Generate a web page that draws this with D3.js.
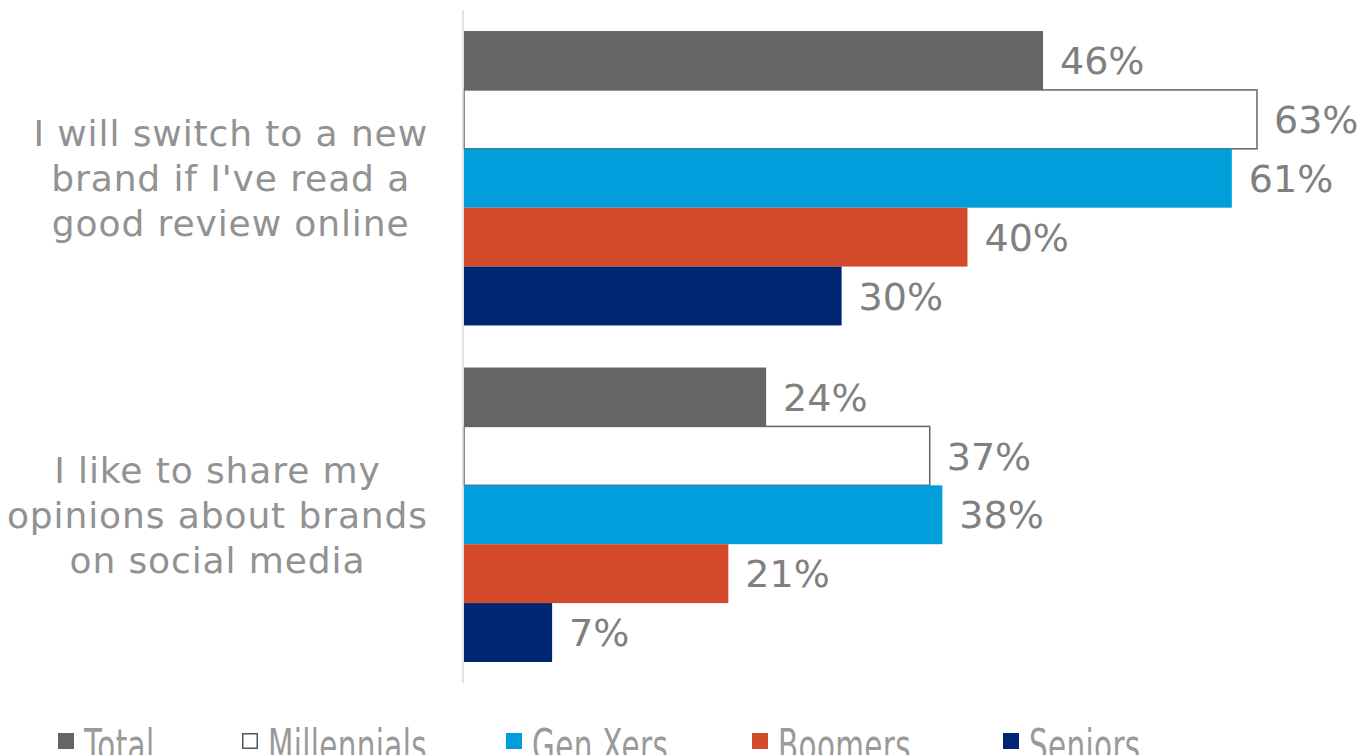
<!DOCTYPE html>
<html>
<head>
<meta charset="utf-8">
<script src="https://cdn.jsdelivr.net/npm/d3@7"></script>
<style>
  html, body { margin: 0; padding: 0; background: #fff; }
  svg { display: block; }
</style>
</head>
<body>
<svg id="chart" width="1363" height="755"></svg>
<script>
// Survey statements (each drawn on three lines)
const categories = [
  "I will switch to a new brand if I've read a good review online",
  "I like to share my opinions about brands on social media"
];
const categoryLines = [
  ["I will switch to a new", "brand if I've read a", "good review online"],
  ["I like to share my", "opinions about brands", "on social media"]
];
const seriesNames = ["Total", "Millennials", "Gen Xers", "Boomers", "Seniors"];
const seriesColors = ["#646567", "#ffffff", "#009fdb", "#d24a29", "#002673"];
// Percent agreeing, per series, per statement
const totalValues = [46, 24];
const millennialsValues = [63, 37];
const genXersValues = [61, 38];
const boomersValues = [40, 21];
const seniorsValues = [30, 7];
const seriesValues = [totalValues, millennialsValues, genXersValues, boomersValues, seniorsValues];

const svg = d3.select("#chart");
const font = "'DejaVu Sans', Verdana, sans-serif";

const plot = { left: 464, top: 10, bottom: 683 };
const x = d3.scaleLinear().domain([0, 63]).range([plot.left, 1257]);

const y0 = d3.scaleBand()
  .domain(d3.range(categories.length))
  .range([plot.top, plot.bottom])
  .paddingInner(0.125)
  .paddingOuter(0.0625);

const y1 = d3.scaleBand()
  .domain(seriesNames)
  .range([0, y0.bandwidth()]);

const color = d3.scaleOrdinal().domain(seriesNames).range(seriesColors);

// right edge of the category label block
const labelRight = 428;

const groups = svg.selectAll("g.cat")
  .data(categories)
  .join("g")
  .attr("class", "cat")
  .attr("transform", (d, i) => `translate(0,${y0(i)})`);

groups.each(function (cat, ci) {
  const g = d3.select(this);
  const rows = seriesNames.map((s, si) => ({ s, v: seriesValues[si][ci] }));

  // bars
  g.selectAll("rect")
    .data(rows)
    .join("rect")
    .attr("x", x(0))
    .attr("y", d => y1(d.s))
    .attr("width", d => x(d.v) - x(0))
    .attr("height", y1.bandwidth())
    .attr("fill", d => color(d.s))
    .attr("stroke", d => d.s === "Millennials" ? "#646567" : "none")
    .attr("stroke-width", d => d.s === "Millennials" ? 1.5 : 0);

  // value labels
  g.selectAll("text.val")
    .data(rows)
    .join("text")
    .attr("class", "val")
    .attr("x", d => x(d.v) + 17)
    .attr("y", d => y1(d.s) + y1.bandwidth() / 2)
    .attr("dy", "0.36em")
    .attr("font-family", font)
    .attr("font-size", 38)
    .attr("fill", "#808080")
    .text(d => d.v + "%");

  // category label: lines centred within a block whose right edge is fixed
  const lines = categoryLines[ci];
  const cy = y0.bandwidth() / 2;
  const label = g.append("text")
    .attr("text-anchor", "middle")
    .attr("font-family", font)
    .attr("font-size", 36)
    .attr("letter-spacing", 0.9)
    .attr("fill", "#929292");
  const tspans = label.selectAll("tspan")
    .data(lines)
    .join("tspan")
    .attr("y", (d, i) => cy + (i - 1) * 45)
    .attr("dy", "0.36em")
    .text(d => d);
  const maxW = d3.max(tspans.nodes(), n => n.getComputedTextLength());
  tspans.attr("x", labelRight - maxW / 2);
});

// vertical axis line
svg.append("line")
  .attr("x1", plot.left - 1).attr("x2", plot.left - 1)
  .attr("y1", plot.top).attr("y2", plot.bottom)
  .attr("stroke", "#d9d9d9")
  .attr("stroke-width", 1.5);

// legend
const legendX = [58, 242, 506, 752, 1003];
const legend = svg.selectAll("g.leg")
  .data(seriesNames)
  .join("g")
  .attr("class", "leg")
  .attr("transform", (d, i) => `translate(${legendX[i]},733)`);

legend.append("rect")
  .attr("x", d => d === "Millennials" ? 0.75 : 0)
  .attr("y", d => d === "Millennials" ? 0.75 : 0)
  .attr("width", d => d === "Millennials" ? 14.5 : 16)
  .attr("height", d => d === "Millennials" ? 14.5 : 16)
  .attr("fill", d => color(d))
  .attr("stroke", d => d === "Millennials" ? "#555" : "none")
  .attr("stroke-width", 1.5);

legend.append("text")
  .attr("transform", "translate(26,28) scale(0.67,1)")
  .attr("font-family", font)
  .attr("font-size", 44)
  .attr("letter-spacing", 0.5)
  .attr("fill", "#9a9a9a")
  .text(d => d);
</script>
</body>
</html>
